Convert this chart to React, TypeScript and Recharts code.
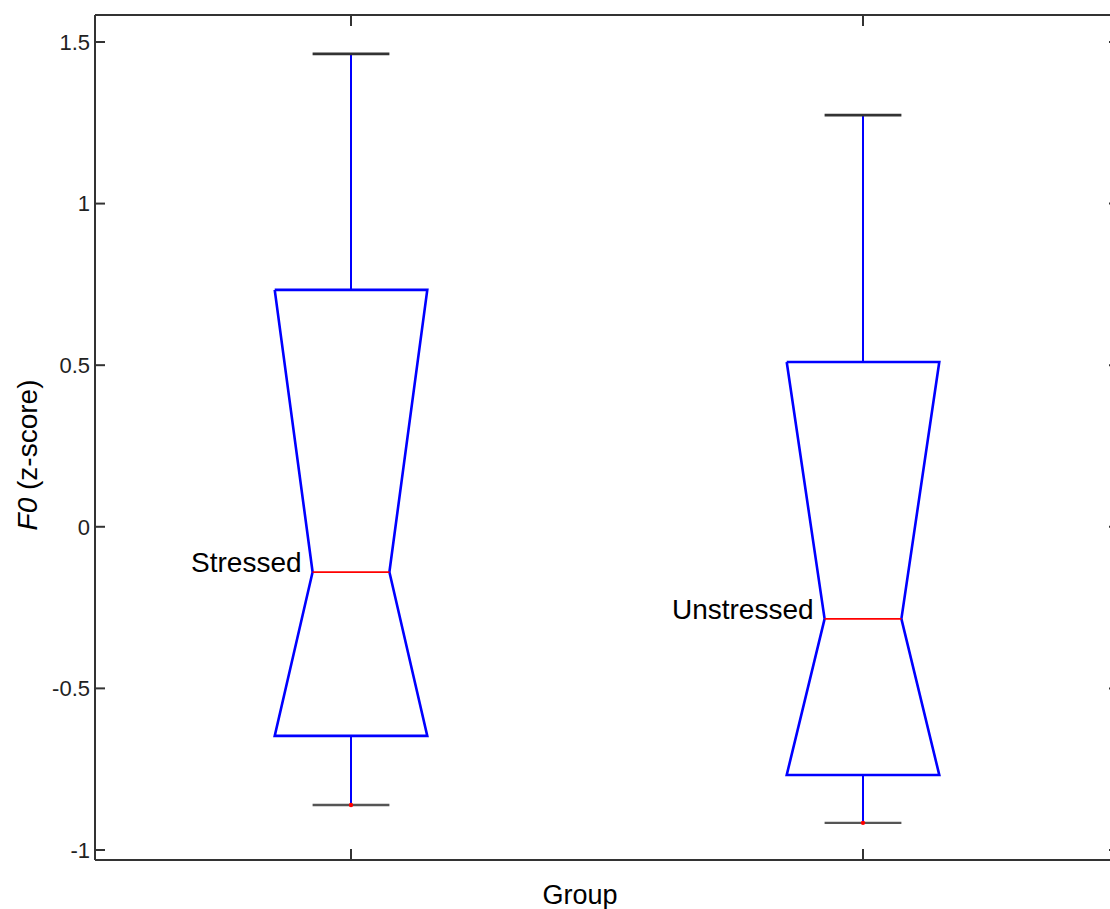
import React from 'react';
import { ComposedChart, Line, Scatter, XAxis, YAxis, Label } from 'recharts';

// box statistics
const groups = ['Stressed', 'Unstressed'];
const positions = [1, 2];
const upperWhisker = [1.463, 1.274];
const upperQuartile = [0.733, 0.51];
const medians = [-0.14, -0.285];
const lowerQuartile = [-0.647, -0.768];
const lowerWhisker = [-0.861, -0.916];
const yTicks = [-1, -0.5, 0, 0.5, 1, 1.5];
const xTicks = [1, 2];

const BOX_HALF = 0.149;
const NOTCH_HALF = 0.075;
const CAP_HALF = 0.075;
const BLUE = '#0000ff';
const RED = '#ff0000';
const AXIS = '#333333';
const FONT = '"Liberation Sans", Arial, Helvetica, sans-serif';
const X_DOMAIN: [number, number] = [0.5, 2.5];
const Y_DOMAIN: [number, number] = [-1.031, 1.5835];

const outlines = positions.map((c, i) => [
  { x: c - BOX_HALF, y: upperQuartile[i] },
  { x: c + BOX_HALF, y: upperQuartile[i] },
  { x: c + NOTCH_HALF, y: medians[i] },
  { x: c + BOX_HALF, y: lowerQuartile[i] },
  { x: c - BOX_HALF, y: lowerQuartile[i] },
  { x: c - NOTCH_HALF, y: medians[i] },
  { x: c - BOX_HALF, y: upperQuartile[i] },
]);
const upperStems = positions.map((c, i) => [
  { x: c, y: upperQuartile[i] },
  { x: c, y: upperWhisker[i] },
]);
const lowerStems = positions.map((c, i) => [
  { x: c, y: lowerQuartile[i] },
  { x: c, y: lowerWhisker[i] },
]);
const upperCaps = positions.map((c, i) => [
  { x: c - CAP_HALF, y: upperWhisker[i] },
  { x: c + CAP_HALF, y: upperWhisker[i] },
]);
const lowerCaps = positions.map((c, i) => [
  { x: c - CAP_HALF, y: lowerWhisker[i] },
  { x: c + CAP_HALF, y: lowerWhisker[i] },
]);
const medianLines = positions.map((c, i) => [
  { x: c - NOTCH_HALF, y: medians[i] },
  { x: c + NOTCH_HALF, y: medians[i] },
]);
const groupLabels = positions.map((c, i) => ({ x: c - NOTCH_HALF, y: medians[i], name: groups[i] }));
const whiskerEnds = positions.map((c, i) => ({ x: c, y: lowerWhisker[i] }));

const blank = () => '';

const YTitle = () => (
  <text x={37} y={455} transform="rotate(-90 37 455)" textAnchor="middle" fontSize={28} fontFamily={FONT} fill="#000">
    <tspan fontStyle="italic">F0</tspan>
    <tspan> (z-score)</tspan>
  </text>
);

const XTitle = () => (
  <text x={580} y={904} textAnchor="middle" fontSize={27} fontFamily={FONT} fill="#000">
    Group
  </text>
);

const GroupLabel = (props: any) => {
  const { cx, cy, payload } = props;
  return (
    <text x={cx - 11} y={cy} textAnchor="end" fontSize={28} fontFamily={FONT} fill="#000">
      {payload.name}
    </text>
  );
};

const RedDot = (props: any) => <circle cx={props.cx} cy={props.cy} r={2.2} fill={RED} />;

export default function App() {
  return (
    <div style={{ position: 'absolute', left: 0, top: 0, width: 1110, height: 909, overflow: 'hidden', background: '#fff' }}>
      <ComposedChart width={1125} height={909} margin={{ top: 14, right: 5, bottom: 0, left: 0 }}>
        <XAxis
          dataKey="x"
          type="number"
          domain={X_DOMAIN}
          ticks={xTicks}
          allowDataOverflow
          height={49}
          stroke={AXIS}
          strokeWidth={2}
          tickSize={-11}
          tickFormatter={blank}
        >
          <Label content={<XTitle />} />
        </XAxis>
        <XAxis
          xAxisId="top"
          orientation="top"
          dataKey="x"
          type="number"
          domain={X_DOMAIN}
          ticks={xTicks}
          allowDataOverflow
          height={1}
          stroke={AXIS}
          strokeWidth={2}
          tickSize={-11}
          tickFormatter={blank}
        />
        <YAxis
          dataKey="y"
          type="number"
          domain={Y_DOMAIN}
          ticks={yTicks}
          allowDataOverflow
          width={95}
          stroke={AXIS}
          strokeWidth={2}
          tickSize={-10}
          tickMargin={15}
          tick={{ fontSize: 22, fontFamily: FONT, fill: '#222', stroke: 'none' }}
        >
          <Label content={<YTitle />} />
        </YAxis>
        <YAxis
          yAxisId="right"
          orientation="right"
          dataKey="y"
          type="number"
          domain={Y_DOMAIN}
          ticks={yTicks}
          allowDataOverflow
          width={1}
          stroke={AXIS}
          strokeWidth={2}
          tickSize={-10}
          tickFormatter={blank}
        />

        {upperStems.map((d, i) => (
          <Line key={`us${i}`} data={d} dataKey="y" stroke={BLUE} strokeWidth={2} dot={false} isAnimationActive={false} />
        ))}
        {lowerStems.map((d, i) => (
          <Line key={`ls${i}`} data={d} dataKey="y" stroke={BLUE} strokeWidth={2} dot={false} isAnimationActive={false} />
        ))}
        {upperCaps.map((d, i) => (
          <Line key={`uc${i}`} data={d} dataKey="y" stroke="#333" strokeWidth={2.8} dot={false} isAnimationActive={false} />
        ))}
        {lowerCaps.map((d, i) => (
          <Line key={`lc${i}`} data={d} dataKey="y" stroke="#555" strokeWidth={2.4} dot={false} isAnimationActive={false} />
        ))}
        {outlines.map((d, i) => (
          <Line key={`box${i}`} data={d} dataKey="y" stroke={BLUE} strokeWidth={2.6} dot={false} isAnimationActive={false} />
        ))}
        {medianLines.map((d, i) => (
          <Line key={`med${i}`} data={d} dataKey="y" stroke={RED} strokeWidth={1.8} dot={false} isAnimationActive={false} />
        ))}
        <Scatter data={whiskerEnds} shape={<RedDot />} isAnimationActive={false} />
        <Scatter data={groupLabels} shape={<GroupLabel />} isAnimationActive={false} />
      </ComposedChart>
    </div>
  );
}
